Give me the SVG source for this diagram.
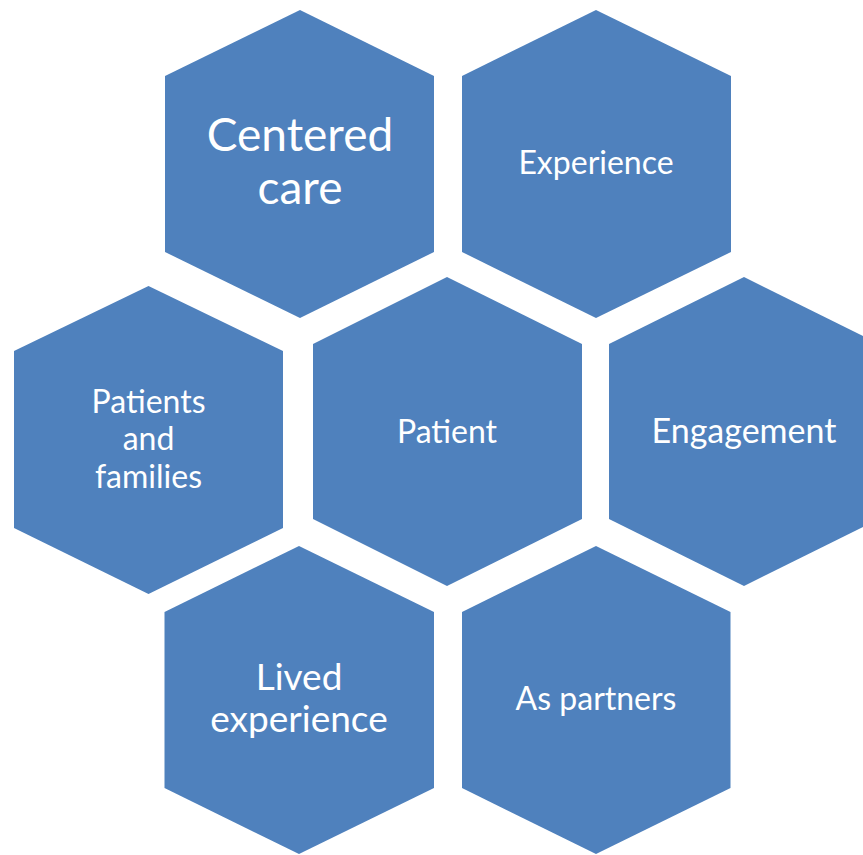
<svg xmlns="http://www.w3.org/2000/svg" width="863" height="855" viewBox="0 0 863 855">
<style>
.hex{fill:#4F81BD;}
.t{fill:#FFFFFF;font-family:Lato,"Open Sans","Liberation Sans",sans-serif;text-anchor:middle;}
</style>
<rect width="863" height="855" fill="#FFFFFF"/>
<g id="centered-care">
<polygon class="hex" points="300,10 434,76 434,252 300,318 165,252 165,76"/>
<text class="t" x="300" y="151" font-size="46">Centered</text>
<text class="t" x="300" y="204" font-size="46">care</text>
</g>
<g id="experience">
<polygon class="hex" points="596,10 731,76 731,252 596,318 462,252 462,76"/>
<text class="t" x="596" y="174" font-size="32">Experience</text>
</g>
<g id="patients-families">
<polygon class="hex" points="148.5,286 283,351 283,528 148.5,594 14,528 14,351"/>
<text class="t" x="148.5" y="413" font-size="32">Patients</text>
<text class="t" x="148.5" y="450" font-size="32">and</text>
<text class="t" x="148.5" y="488" font-size="32">families</text>
</g>
<g id="patient">
<polygon class="hex" points="447,277 582,344 582,519 447,586 313,519 313,344"/>
<text class="t" x="447" y="443" font-size="32">Patient</text>
</g>
<g id="engagement">
<polygon class="hex" points="744,277 879,344 879,519 744,586 609,519 609,344"/>
<text class="t" x="744" y="443" font-size="34">Engagement</text>
</g>
<g id="lived-experience">
<polygon class="hex" points="299,546 434,612 434,788 299,854 164.5,788 164.5,612"/>
<text class="t" x="299" y="690" font-size="37">Lived</text>
<text class="t" x="299" y="732" font-size="37">experience</text>
</g>
<g id="as-partners">
<polygon class="hex" points="596,546 730.5,612 730.5,788 596,854 462,788 462,612"/>
<text class="t" x="596" y="710" font-size="32">As partners</text>
</g>
<g id="connectors"></g>
</svg>
